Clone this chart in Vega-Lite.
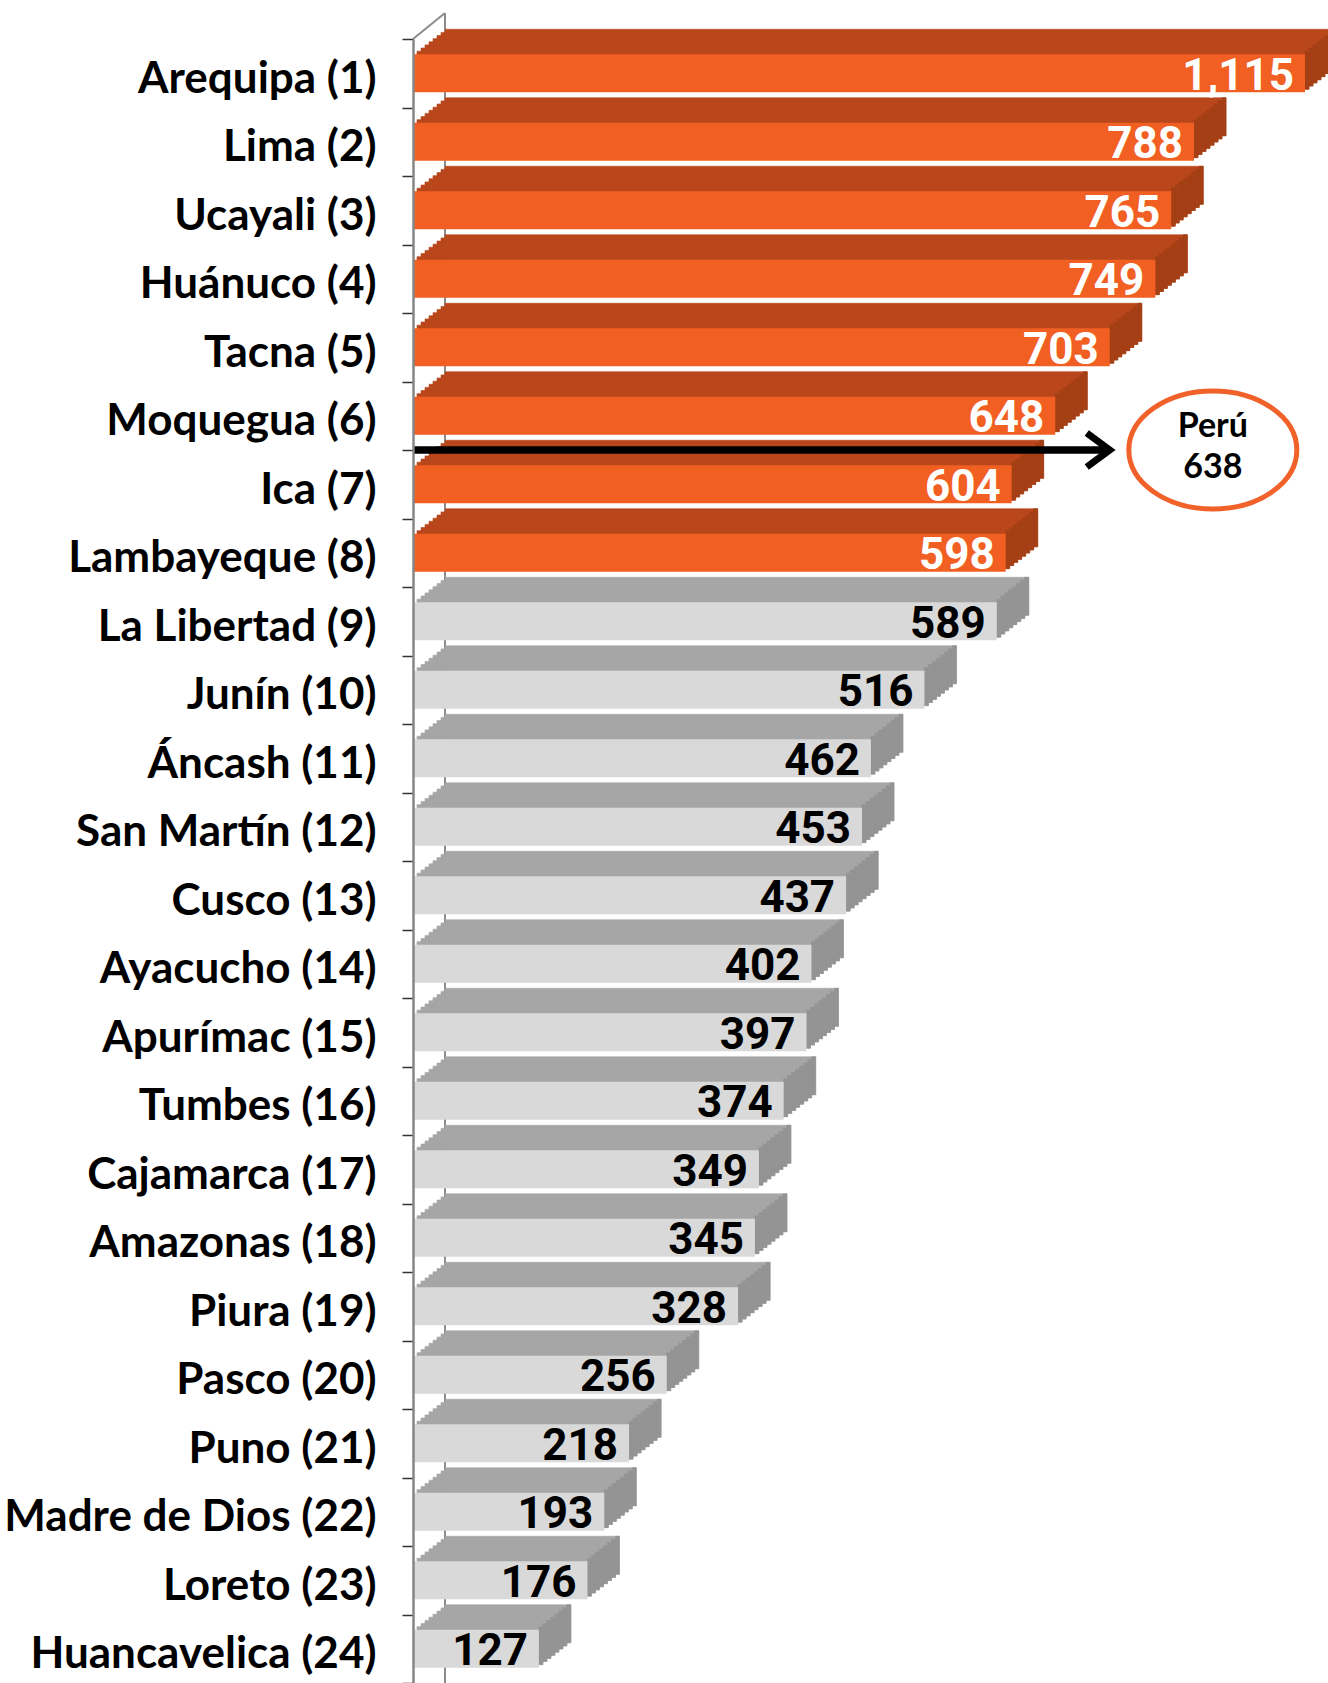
{
  "$schema": "https://vega.github.io/schema/vega-lite/v6.json",
  "autosize": "none",
  "width": 892,
  "height": {"step": 68.5},
  "padding": {"left": 413, "top": 39, "right": 23, "bottom": 0},
  "background": "#FFFFFF",
  "config": {"view": {"stroke": null}},
  "datasets": {
    "regions": [
      {"region": "Arequipa (1)", "value": 1115, "rank": 1},
      {"region": "Lima (2)", "value": 788, "rank": 2},
      {"region": "Ucayali (3)", "value": 765, "rank": 3},
      {"region": "Huánuco (4)", "value": 749, "rank": 4},
      {"region": "Tacna (5)", "value": 703, "rank": 5},
      {"region": "Moquegua (6)", "value": 648, "rank": 6},
      {"region": "Ica (7)", "value": 604, "rank": 7},
      {"region": "Lambayeque (8)", "value": 598, "rank": 8},
      {"region": "La Libertad (9)", "value": 589, "rank": 9},
      {"region": "Junín (10)", "value": 516, "rank": 10},
      {"region": "Áncash (11)", "value": 462, "rank": 11},
      {"region": "San Martín (12)", "value": 453, "rank": 12},
      {"region": "Cusco (13)", "value": 437, "rank": 13},
      {"region": "Ayacucho (14)", "value": 402, "rank": 14},
      {"region": "Apurímac (15)", "value": 397, "rank": 15},
      {"region": "Tumbes (16)", "value": 374, "rank": 16},
      {"region": "Cajamarca (17)", "value": 349, "rank": 17},
      {"region": "Amazonas (18)", "value": 345, "rank": 18},
      {"region": "Piura (19)", "value": 328, "rank": 19},
      {"region": "Pasco (20)", "value": 256, "rank": 20},
      {"region": "Puno (21)", "value": 218, "rank": 21},
      {"region": "Madre de Dios (22)", "value": 193, "rank": 22},
      {"region": "Loreto (23)", "value": 176, "rank": 23},
      {"region": "Huancavelica (24)", "value": 127, "rank": 24}
    ],
    "peru": [{"label": "Perú", "value": 638, "region": "Ica (7)"}]
  },
  "data": {"name": "regions"},
  "layer": [
    {
      "transform": [{"filter": "datum.rank == 1"}],
      "mark": {"type": "rule", "color": "#8C8C8C", "strokeWidth": 2, "xOffset": 32, "yOffset": -26},
      "encoding": {"x": {"datum": 0, "type": "quantitative", "scale": {"domain": [0, 900], "clamp": true}, "axis": null}}
    },
    {
      "transform": [{"filter": "datum.rank == 1"}],
      "mark": {"type": "point", "shape": "M 0 0 L 1 -0.8125", "size": 4096, "filled": false, "stroke": "#8C8C8C", "strokeWidth": 2, "opacity": 1},
      "encoding": {
        "x": {"datum": 0, "type": "quantitative"},
        "y": {"field": "region", "type": "nominal", "sort": null, "bandPosition": 0}
      }
    },
    {"mark": {"type": "bar", "height": 38, "xOffset": 4, "yOffset": -3.125, "strokeWidth": 0.6}, "encoding": {"x": {"field": "value", "type": "quantitative"}, "y": {"field": "region", "type": "nominal", "sort": null}, "color": {"condition": {"test": "datum.rank <= 8", "value": "#B9471B"}, "value": "#A6A6A6"}, "stroke": {"condition": {"test": "datum.rank <= 8", "value": "#B9471B"}, "value": "#A6A6A6"}}},
    {"mark": {"type": "bar", "height": 38, "xOffset": 8, "yOffset": -6.25, "strokeWidth": 0.6}, "encoding": {"x": {"field": "value", "type": "quantitative"}, "y": {"field": "region", "type": "nominal", "sort": null}, "color": {"condition": {"test": "datum.rank <= 8", "value": "#B9471B"}, "value": "#A6A6A6"}, "stroke": {"condition": {"test": "datum.rank <= 8", "value": "#B9471B"}, "value": "#A6A6A6"}}},
    {"mark": {"type": "bar", "height": 38, "xOffset": 12, "yOffset": -9.375, "strokeWidth": 0.6}, "encoding": {"x": {"field": "value", "type": "quantitative"}, "y": {"field": "region", "type": "nominal", "sort": null}, "color": {"condition": {"test": "datum.rank <= 8", "value": "#B9471B"}, "value": "#A6A6A6"}, "stroke": {"condition": {"test": "datum.rank <= 8", "value": "#B9471B"}, "value": "#A6A6A6"}}},
    {"mark": {"type": "bar", "height": 38, "xOffset": 16, "yOffset": -12.5, "strokeWidth": 0.6}, "encoding": {"x": {"field": "value", "type": "quantitative"}, "y": {"field": "region", "type": "nominal", "sort": null}, "color": {"condition": {"test": "datum.rank <= 8", "value": "#B9471B"}, "value": "#A6A6A6"}, "stroke": {"condition": {"test": "datum.rank <= 8", "value": "#B9471B"}, "value": "#A6A6A6"}}},
    {"mark": {"type": "bar", "height": 38, "xOffset": 20, "yOffset": -15.625, "strokeWidth": 0.6}, "encoding": {"x": {"field": "value", "type": "quantitative"}, "y": {"field": "region", "type": "nominal", "sort": null}, "color": {"condition": {"test": "datum.rank <= 8", "value": "#B9471B"}, "value": "#A6A6A6"}, "stroke": {"condition": {"test": "datum.rank <= 8", "value": "#B9471B"}, "value": "#A6A6A6"}}},
    {"mark": {"type": "bar", "height": 38, "xOffset": 24, "yOffset": -18.75, "strokeWidth": 0.6}, "encoding": {"x": {"field": "value", "type": "quantitative"}, "y": {"field": "region", "type": "nominal", "sort": null}, "color": {"condition": {"test": "datum.rank <= 8", "value": "#B9471B"}, "value": "#A6A6A6"}, "stroke": {"condition": {"test": "datum.rank <= 8", "value": "#B9471B"}, "value": "#A6A6A6"}}},
    {"mark": {"type": "bar", "height": 38, "xOffset": 28, "yOffset": -21.875, "strokeWidth": 0.6}, "encoding": {"x": {"field": "value", "type": "quantitative"}, "y": {"field": "region", "type": "nominal", "sort": null}, "color": {"condition": {"test": "datum.rank <= 8", "value": "#B9471B"}, "value": "#A6A6A6"}, "stroke": {"condition": {"test": "datum.rank <= 8", "value": "#B9471B"}, "value": "#A6A6A6"}}},
    {"mark": {"type": "bar", "height": 38, "xOffset": 32, "yOffset": -25, "strokeWidth": 0.6}, "encoding": {"x": {"field": "value", "type": "quantitative"}, "y": {"field": "region", "type": "nominal", "sort": null}, "color": {"condition": {"test": "datum.rank <= 8", "value": "#B9471B"}, "value": "#A6A6A6"}, "stroke": {"condition": {"test": "datum.rank <= 8", "value": "#B9471B"}, "value": "#A6A6A6"}}},
    {"mark": {"type": "bar", "height": 38, "xOffset": 0, "x2Offset": 4, "yOffset": -3.125, "strokeWidth": 0.6}, "encoding": {"x": {"field": "value", "type": "quantitative"}, "x2": {"field": "value"}, "y": {"field": "region", "type": "nominal", "sort": null}, "color": {"condition": {"test": "datum.rank <= 8", "value": "#A43F16"}, "value": "#949494"}, "stroke": {"condition": {"test": "datum.rank <= 8", "value": "#A43F16"}, "value": "#949494"}}},
    {"mark": {"type": "bar", "height": 38, "xOffset": 4, "x2Offset": 8, "yOffset": -6.25, "strokeWidth": 0.6}, "encoding": {"x": {"field": "value", "type": "quantitative"}, "x2": {"field": "value"}, "y": {"field": "region", "type": "nominal", "sort": null}, "color": {"condition": {"test": "datum.rank <= 8", "value": "#A43F16"}, "value": "#949494"}, "stroke": {"condition": {"test": "datum.rank <= 8", "value": "#A43F16"}, "value": "#949494"}}},
    {"mark": {"type": "bar", "height": 38, "xOffset": 8, "x2Offset": 12, "yOffset": -9.375, "strokeWidth": 0.6}, "encoding": {"x": {"field": "value", "type": "quantitative"}, "x2": {"field": "value"}, "y": {"field": "region", "type": "nominal", "sort": null}, "color": {"condition": {"test": "datum.rank <= 8", "value": "#A43F16"}, "value": "#949494"}, "stroke": {"condition": {"test": "datum.rank <= 8", "value": "#A43F16"}, "value": "#949494"}}},
    {"mark": {"type": "bar", "height": 38, "xOffset": 12, "x2Offset": 16, "yOffset": -12.5, "strokeWidth": 0.6}, "encoding": {"x": {"field": "value", "type": "quantitative"}, "x2": {"field": "value"}, "y": {"field": "region", "type": "nominal", "sort": null}, "color": {"condition": {"test": "datum.rank <= 8", "value": "#A43F16"}, "value": "#949494"}, "stroke": {"condition": {"test": "datum.rank <= 8", "value": "#A43F16"}, "value": "#949494"}}},
    {"mark": {"type": "bar", "height": 38, "xOffset": 16, "x2Offset": 20, "yOffset": -15.625, "strokeWidth": 0.6}, "encoding": {"x": {"field": "value", "type": "quantitative"}, "x2": {"field": "value"}, "y": {"field": "region", "type": "nominal", "sort": null}, "color": {"condition": {"test": "datum.rank <= 8", "value": "#A43F16"}, "value": "#949494"}, "stroke": {"condition": {"test": "datum.rank <= 8", "value": "#A43F16"}, "value": "#949494"}}},
    {"mark": {"type": "bar", "height": 38, "xOffset": 20, "x2Offset": 24, "yOffset": -18.75, "strokeWidth": 0.6}, "encoding": {"x": {"field": "value", "type": "quantitative"}, "x2": {"field": "value"}, "y": {"field": "region", "type": "nominal", "sort": null}, "color": {"condition": {"test": "datum.rank <= 8", "value": "#A43F16"}, "value": "#949494"}, "stroke": {"condition": {"test": "datum.rank <= 8", "value": "#A43F16"}, "value": "#949494"}}},
    {"mark": {"type": "bar", "height": 38, "xOffset": 24, "x2Offset": 28, "yOffset": -21.875, "strokeWidth": 0.6}, "encoding": {"x": {"field": "value", "type": "quantitative"}, "x2": {"field": "value"}, "y": {"field": "region", "type": "nominal", "sort": null}, "color": {"condition": {"test": "datum.rank <= 8", "value": "#A43F16"}, "value": "#949494"}, "stroke": {"condition": {"test": "datum.rank <= 8", "value": "#A43F16"}, "value": "#949494"}}},
    {"mark": {"type": "bar", "height": 38, "xOffset": 28, "x2Offset": 32, "yOffset": -25, "strokeWidth": 0.6}, "encoding": {"x": {"field": "value", "type": "quantitative"}, "x2": {"field": "value"}, "y": {"field": "region", "type": "nominal", "sort": null}, "color": {"condition": {"test": "datum.rank <= 8", "value": "#A43F16"}, "value": "#949494"}, "stroke": {"condition": {"test": "datum.rank <= 8", "value": "#A43F16"}, "value": "#949494"}}},
    {
      "mark": {"type": "bar", "height": 38},
      "encoding": {
        "x": {"field": "value", "type": "quantitative"},
        "y": {
          "field": "region", "type": "nominal", "sort": null,
          "scale": {"paddingInner": 0, "paddingOuter": 0},
          "axis": {
            "title": null, "zindex": 1, "tickBand": "extent",
            "domainColor": "#868686", "domainWidth": 2.5,
            "tickColor": "#333333", "tickWidth": 1.5, "tickSize": 11,
            "labelPadding": 26, "labelFont": "Lato", "labelFontWeight": "bold",
            "labelFontSize": 44, "labelColor": "#000000", "labelLimit": 500,
            "labelBaseline": "alphabetic", "labelOffset": 19
          }
        },
        "color": {"condition": {"test": "datum.rank <= 8", "value": "#F25F22"}, "value": "#D9D9D9"}
      }
    },
    {
      "mark": {"type": "text", "align": "right", "baseline": "alphabetic", "dx": -11, "yOffset": 16.5, "font": "Roboto", "fontWeight": "bold", "fontSize": 44},
      "encoding": {
        "x": {"field": "value", "type": "quantitative"},
        "y": {"field": "region", "type": "nominal", "sort": null},
        "text": {"field": "value", "type": "quantitative", "format": ",d"},
        "color": {"condition": {"test": "datum.rank <= 8", "value": "#FFFFFF"}, "value": "#000000"}
      }
    },
    {
      "data": {"name": "peru"},
      "mark": {"type": "rule", "color": "#000000", "strokeWidth": 7.5},
      "encoding": {
        "x": {"datum": 0, "type": "quantitative"},
        "x2": {"datum": 703},
        "y": {"field": "region", "type": "nominal", "sort": null, "bandPosition": 0}
      }
    },
    {
      "data": {"name": "peru"},
      "mark": {"type": "point", "shape": "M -1 -0.74 L 0 0 L -1 0.74", "size": 2116, "filled": false, "stroke": "#000000", "strokeWidth": 7, "strokeJoin": "miter", "opacity": 1},
      "encoding": {
        "x": {"datum": 703, "type": "quantitative"},
        "y": {"field": "region", "type": "nominal", "sort": null, "bandPosition": 0}
      }
    },
    {
      "data": {"name": "peru"},
      "mark": {"type": "point", "shape": "M -1 0 A 1 0.702 0 1 1 1 0 A 1 0.702 0 1 1 -1 0 Z", "size": 28224, "filled": true, "fill": "#FFFFFF", "stroke": "#F0622A", "strokeWidth": 5, "opacity": 1},
      "encoding": {
        "x": {"datum": 807, "type": "quantitative"},
        "y": {"field": "region", "type": "nominal", "sort": null, "bandPosition": 0}
      }
    },
    {
      "data": {"name": "peru"},
      "mark": {"type": "text", "align": "center", "baseline": "alphabetic", "yOffset": -13, "font": "Lato", "fontWeight": "bold", "fontSize": 34, "color": "#000000"},
      "encoding": {
        "x": {"datum": 807, "type": "quantitative"},
        "y": {"field": "region", "type": "nominal", "sort": null, "bandPosition": 0},
        "text": {"field": "label"}
      }
    },
    {
      "data": {"name": "peru"},
      "mark": {"type": "text", "align": "center", "baseline": "alphabetic", "yOffset": 28, "font": "Lato", "fontWeight": "bold", "fontSize": 34, "color": "#000000"},
      "encoding": {
        "x": {"datum": 807, "type": "quantitative"},
        "y": {"field": "region", "type": "nominal", "sort": null, "bandPosition": 0},
        "text": {"field": "value", "type": "quantitative", "format": "d"}
      }
    }
  ]
}
